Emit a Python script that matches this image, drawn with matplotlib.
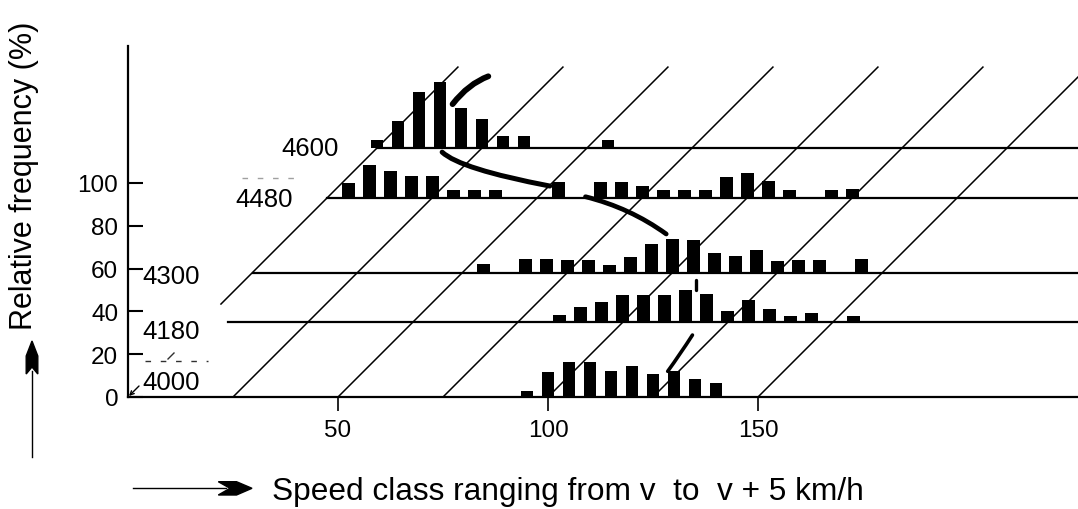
import matplotlib
matplotlib.use("Agg")
import matplotlib.pyplot as plt
from matplotlib.patches import Polygon, PathPatch
from matplotlib.path import Path
from matplotlib.transforms import Affine2D

plt.rcParams['font.family'] = ['Liberation Sans', 'DejaVu Sans']

W, H = 1078, 510

# traffic volume (veh/h) of each speed distribution, front to back
volumes = [4000, 4180, 4300, 4480, 4600]

# speed class (km/h) and relative frequency (%) for every volume
speeds_4000 = [95, 100, 105, 110, 115, 120, 125, 130, 135, 140]
freq_4000 = [2.9, 11.5, 16.2, 16.2, 12.3, 14.6, 10.7, 12.3, 8.4, 6.4]

speeds_4180 = [85, 90, 95, 100, 105, 110, 115, 120, 125, 130, 135, 140, 145, 155]
freq_4180 = [3.6, 7.0, 9.3, 12.9, 12.9, 12.9, 15.0, 13.4, 5.1, 10.6, 6.2, 3.1, 4.3, 2.8]

speeds_4300 = [55, 65, 70, 75, 80, 85, 90, 95, 100, 105, 110, 115, 120, 125, 130, 135, 145]
freq_4300 = [4.2, 6.1, 6.1, 5.7, 5.7, 3.4, 7.3, 13.1, 15.7, 15.3, 8.9, 7.9, 10.4, 5.3, 5.7, 5.7, 6.2]

speeds_4480 = [5, 10, 15, 20, 25, 30, 35, 40, 55, 65, 70, 75, 80, 85, 90, 95, 100, 105, 110, 120, 125]
freq_4480 = [6.7, 15.3, 12.6, 10.3, 10.3, 3.6, 3.6, 3.6, 7.2, 7.2, 7.2, 5.6, 3.6, 3.6, 3.6, 9.5, 11.8, 7.9, 3.6, 3.6, 4.1]

speeds_4600 = [0, 5, 10, 15, 20, 25, 30, 35, 55]
freq_4600 = [3.7, 12.5, 26.3, 30.7, 18.5, 13.6, 5.5, 5.5, 3.9]

speeds = [speeds_4000, speeds_4180, speeds_4300, speeds_4480, speeds_4600]
freqs = [freq_4000, freq_4180, freq_4300, freq_4480, freq_4600]

# hand-drawn trace of the modal speed, as (speed, volume, frequency) points
mode_strokes = [
    [(128.5, 4000, 12.0), (127.0, 4045, 11.5), (125.5, 4090, 11.5)],
    [(117.5, 4180, 15.0), (117.5, 4180, 20.0)],
    [(98.5, 4300, 18.0), (80.5, 4390, 11.0), (61.5, 4480, 0.5)],
    [(53.0, 4480, 5.5), (30.0, 4540, 1.8), (16.5, 4590, 0.0)],
    [(18.0, 4600, 20.5), (22.0, 4600, 28.5), (26.5, 4600, 33.5)],
]
stroke_widths = [2.6, 2.4, 3.4, 3.6, 4.2]

# floor grid: lines of constant speed running back in depth
grid_speeds = [0, 25, 50, 75, 100, 125, 150]
floor_back = 4795

# pixel scales of the oblique projection
PX_V = 4.2      # px per km/h
PX_F = 2.14     # px per %
PX_Q = 0.415    # px per veh/h, along the 45 degree depth direction
X0, Y0 = 128, 398   # origin in image pixels
TOP = 47


def project(v, q, f):
    d = PX_Q * (q - volumes[0])
    return v + d / PX_V, f + d / PX_F


def to_data(px, py):
    return (px - X0) / PX_V, (Y0 - py) / PX_F


fig = plt.figure(figsize=(W / 100, H / 100), dpi=100)
ax = fig.add_axes([X0 / W, (H - Y0) / H, (W - X0) / W, (Y0 - TOP) / H])
ax.set_xlim(0, (W - X0) / PX_V)
ax.set_ylim(0, (Y0 - TOP) / PX_F)
for s in ['top', 'right']:
    ax.spines[s].set_visible(False)
for s in ['left', 'bottom']:
    ax.spines[s].set_linewidth(1.6)

ax.set_yticks([0, 20, 40, 60, 80, 100])
ax.set_xticks([50, 100, 150])
ax.tick_params(axis='y', direction='in', length=11, width=1.5, pad=7, labelsize=17.5)
ax.tick_params(axis='x', direction='out', length=10, width=1.2, pad=6, labelsize=17.5)

# floor grid
for v0 in grid_speeds:
    q0 = 4224 if v0 == 0 else volumes[0]
    xa, ya = project(v0, q0, 0)
    xb, yb = project(v0, floor_back, 0)
    ax.plot([xa, xb], [ya, yb], color='black', lw=1.1, zorder=1)

# baselines of the deeper distributions
base_start = [0, 6, 0, 0, 0]
for q, vs in zip(volumes[1:], base_start[1:]):
    xa, ya = project(vs, q, 0)
    ax.plot([xa, ax.get_xlim()[1]], [ya, ya], color='black', lw=1.6, zorder=2)

# bars
for q, sp, fr in zip(volumes, speeds, freqs):
    xs = [project(v, q, 0)[0] for v in sp]
    base = project(0, q, 0)[1]
    ax.bar(xs, fr, width=3.0, bottom=base, color='black', linewidth=0, zorder=3)

# trace of the mode
for pts, lw in zip(mode_strokes, stroke_widths):
    p = [project(*pt) for pt in pts]
    if len(p) == 3:
        ctrl = (2 * p[1][0] - (p[0][0] + p[2][0]) / 2,
                2 * p[1][1] - (p[0][1] + p[2][1]) / 2)
        path = Path([p[0], ctrl, p[2]], [Path.MOVETO, Path.CURVE3, Path.CURVE3])
    else:
        path = Path(p, [Path.MOVETO, Path.LINETO])
    ax.add_patch(PathPatch(path, fill=False, lw=lw, color='black',
                           capstyle='round', zorder=4))

# volume labels
label_pos = [(142, 383, 'left'), (142, 332, 'left'), (142, 277, 'left'),
             (293, 200, 'right'), (339, 149, 'right')]
for q, (px, py, ha) in zip(volumes, label_pos):
    x, y = to_data(px, py)
    ax.text(x, y, str(q), ha=ha, va='center', fontsize=18.5, clip_on=False)

ax.annotate('', xy=to_data(129, 397), xytext=to_data(139, 387),
            arrowprops=dict(arrowstyle='->', lw=1.0, shrinkA=0, shrinkB=0,
                            mutation_scale=7), annotation_clip=False)

# leftover dashes from the original drawing
for (xa, xb, y, c) in [(242, 302, 179, '#a0a0a0'), (145, 208, 362, '#303030')]:
    p0, p1 = to_data(xa, y), to_data(xb, y)
    ax.plot([p0[0], p1[0]], [p0[1], p1[1]], color=c, lw=1.0,
            linestyle=(0, (4, 7)), clip_on=False)
p0, p1 = to_data(168, 360), to_data(174, 354)
ax.plot([p0[0], p1[0]], [p0[1], p1[1]], color='#303030', lw=1.0, clip_on=False)

# axis captions with their arrows
img = Affine2D().scale(1, -1).translate(0, H)
fig.add_artist(plt.Line2D([32, 32], [458, 372], lw=1.0, color='black', transform=img))
fig.add_artist(Polygon([(32, 342), (37.8, 357), (37.8, 375), (32, 368),
                        (26.2, 375), (26.2, 357)], closed=True,
                       color='black', transform=img))
fig.add_artist(plt.Line2D([133, 226], [489, 489], lw=1.0, color='black', transform=img))
fig.add_artist(Polygon([(252, 489.3), (236.5, 482.7), (218.3, 482.7), (230, 489.3),
                        (218.3, 496), (236.5, 496)], closed=True,
                       color='black', transform=img))

fig.text(24 / W, 1 - 176 / H, 'Relative frequency (%)', rotation=90,
         ha='center', va='center', fontsize=22)
fig.text(272 / W, 1 - 500 / H, 'Speed class ranging from v  to  v + 5 km/h',
         ha='left', va='baseline', fontsize=22.8)

fig.savefig('out.png', dpi=100, facecolor='white')
